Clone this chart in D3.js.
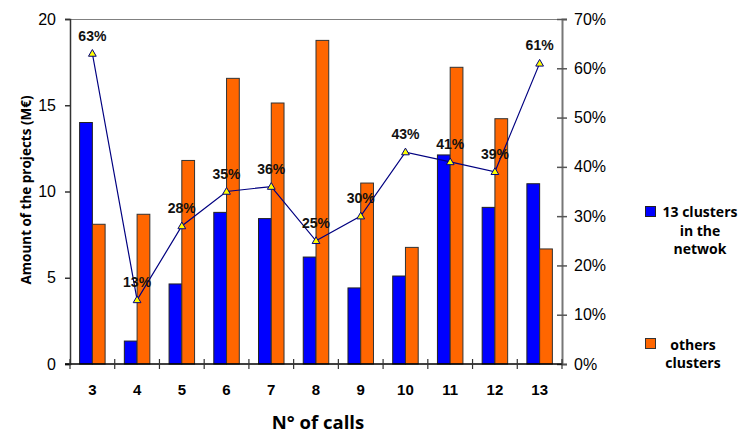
<!DOCTYPE html>
<html><head><meta charset="utf-8">
<script src="https://cdn.jsdelivr.net/npm/d3@7"></script>
<style>body{margin:0;background:#fff}svg{display:block}</style>
</head><body>
<script>
const categories = ["3","4","5","6","7","8","9","10","11","12","13"];
const clusters13 = [14.0,1.33,4.64,8.79,8.43,6.2,4.41,5.1,12.12,9.08,10.45];
const othersClusters = [8.1,8.68,11.8,16.56,15.13,18.76,10.49,6.76,17.2,14.22,6.67];
const sharePct = [63,13,28,35,36,25,30,43,41,39,61];
const leftTicks = [0,5,10,15,20];
const rightTicks = [0,10,20,30,40,50,60,70];

const W=755,H=434;
const m={l:70,r:562,t:19,b:364};
const svg=d3.select("body").append("svg").attr("width",W).attr("height",H);

const x=d3.scaleBand().domain(categories).range([m.l,m.r]).paddingInner(0).paddingOuter(0);
const y=d3.scaleLinear().domain([0,20]).range([m.b,m.t]);
const y2=d3.scaleLinear().domain([0,70]).range([m.b,m.t]);
const bw=x.bandwidth()*0.285;

// top border
svg.append("line").attr("x1",m.l).attr("x2",m.r).attr("y1",m.t+0.5).attr("y2",m.t+0.5).attr("stroke","#808080").attr("stroke-width",1);

// bars
const g=svg.append("g");
categories.forEach((c,i)=>{
  const cx=x(c)+x.bandwidth()/2;
  g.append("rect").attr("x",cx-bw).attr("y",y(clusters13[i])).attr("width",bw).attr("height",y(0)-y(clusters13[i]))
   .attr("fill","#0000FF").attr("stroke","#222").attr("stroke-width",1);
  g.append("rect").attr("x",cx).attr("y",y(othersClusters[i])).attr("width",bw).attr("height",y(0)-y(othersClusters[i]))
   .attr("fill","#FF6600").attr("stroke","#333").attr("stroke-width",1);
});

// left axis
const la=svg.append("g").attr("transform",`translate(${m.l},0)`)
  .call(d3.axisLeft(y).tickValues(leftTicks).tickSize(5).tickPadding(9).tickFormat(d3.format("d")));
la.select(".domain").attr("stroke","#333").attr("stroke-width",1.5);
la.selectAll(".tick line").attr("stroke","#333").attr("stroke-width",1.5);
la.selectAll("text").attr("font-family","Liberation Sans, Arial, sans-serif").attr("font-size",16).attr("fill","#000");

// right axis
const ra=svg.append("g").attr("transform",`translate(${m.r},0)`)
  .call(d3.axisRight(y2).tickValues(rightTicks).tickSize(5).tickPadding(7).tickFormat(d=>d+"%"));
ra.select(".domain").attr("stroke","#777").attr("stroke-width",2);
ra.selectAll(".tick line").attr("stroke","#555").attr("stroke-width",1.5).attr("x1",-5);
ra.selectAll("text").attr("font-family","Liberation Sans, Arial, sans-serif").attr("font-size",16).attr("fill","#000");

// bottom axis
const bx=svg.append("g").attr("transform",`translate(0,${m.b})`)
  .call(d3.axisBottom(x).tickSize(0).tickPadding(20));
bx.select(".domain").attr("stroke","#000").attr("stroke-width",1.5).attr("d",`M${m.l-5},0H${m.r}`);
bx.selectAll("text").attr("font-family","Liberation Sans, Arial, sans-serif").attr("font-size",15).attr("font-weight","bold").attr("fill","#000");
const bounds=categories.map(c=>x(c)).concat([m.r]);
bx.selectAll(".bnd").data(bounds).enter().append("line")
  .attr("x1",d=>d).attr("x2",d=>d).attr("y1",-5).attr("y2",5).attr("stroke","#333").attr("stroke-width",1.2);

// line
const px=c=>x(c)+x.bandwidth()/2;
const line=d3.line().x((d,i)=>px(categories[i])).y(d=>y2(d));
svg.append("path").datum(sharePct).attr("d",line).attr("fill","none").attr("stroke","#000080").attr("stroke-width",1.2);
const tri=d3.symbol().type(d3.symbolTriangle).size(26);
svg.selectAll(".mk").data(sharePct).enter().append("path")
  .attr("d",tri).attr("transform",(d,i)=>`translate(${px(categories[i])},${y2(d)+0.5})`)
  .attr("fill","#FFFF00").attr("stroke","#000080").attr("stroke-width",1);
svg.selectAll(".lb").data(sharePct).enter().append("text")
  .attr("x",(d,i)=>px(categories[i])).attr("y",d=>y2(d)-13)
  .attr("text-anchor","middle").attr("font-family","Liberation Sans, Arial, sans-serif")
  .attr("font-size",14).attr("font-weight","bold").attr("fill","#111").text(d=>d+"%");

// titles
svg.append("text").attr("transform","translate(31,190) rotate(-90)").attr("text-anchor","middle")
  .attr("font-family","Open Sans, sans-serif").attr("font-weight","bold").attr("font-size",13.5).text("Amount of the projects (M€)");
svg.append("text").attr("x",318).attr("y",429).attr("text-anchor","middle")
  .attr("font-family","Open Sans, sans-serif").attr("font-weight","bold").attr("font-size",18.5).text("N° of calls");

// legend
const lg=svg.append("g").attr("font-family","Open Sans, sans-serif").attr("font-weight","bold").attr("font-size",14).attr("text-anchor","middle");
lg.append("rect").attr("x",645.5).attr("y",206.5).attr("width",10).attr("height",10).attr("fill","#0000FF").attr("stroke","#222");
[["13 clusters",217],["in the",236],["netwok",254]].forEach(([t,yy])=>lg.append("text").attr("x",700).attr("y",yy).text(t));
lg.append("rect").attr("x",645.5).attr("y",338.5).attr("width",10).attr("height",10).attr("fill","#FF6600").attr("stroke","#333");
[["others",350],["clusters",368]].forEach(([t,yy])=>lg.append("text").attr("x",693).attr("y",yy).text(t));
</script>
</body></html>
